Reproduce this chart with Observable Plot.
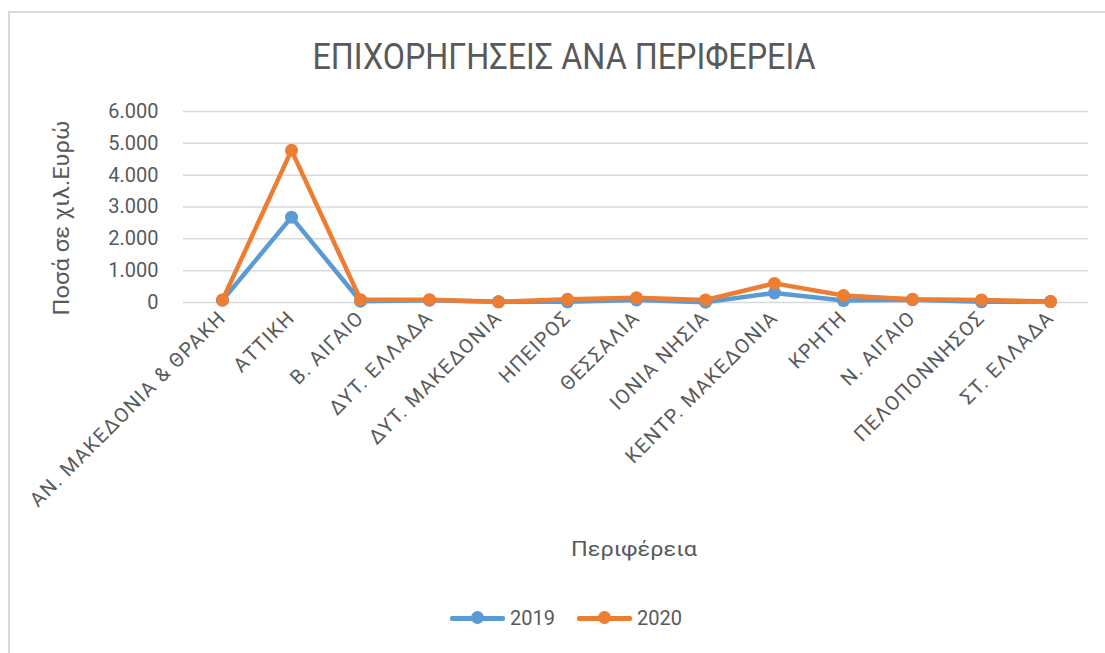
<!DOCTYPE html>
<html>
<head>
<meta charset="utf-8">
<script src="https://cdn.jsdelivr.net/npm/d3@7"></script>
<script src="https://cdn.jsdelivr.net/npm/@observablehq/plot@0.6"></script>
<style>
  html, body { margin: 0; padding: 0; background: #fff; }
  #wrap { position: relative; width: 1105px; height: 653px; overflow: hidden; font-family: Roboto, "Open Sans", sans-serif; color: #595959; }
  #frame { position: absolute; left: 8px; top: 11px; width: 1200px; height: 800px; border-left: 2px solid #d9d9d9; border-top: 2px solid #d9d9d9; }
  .txt { position: absolute; white-space: nowrap; line-height: 1; }
  #legend { position: absolute; top: 608px; left: 450px; display: flex; align-items: center; font-size: 20px; line-height: 1; }
  .li { display: flex; align-items: center; margin-right: 22px; }
  .sw { position: relative; width: 55px; height: 14px; margin-right: 5px; }
  .sw .l { position: absolute; left: 0; right: 0; top: 5px; height: 4.5px; border-radius: 2px; }
  .sw .d { position: absolute; left: 21px; top: 0; width: 13px; height: 13px; border-radius: 50%; }
  svg { position: absolute; left: 0; top: 0; }
</style>
</head>
<body>
<div id="wrap">
  <div id="frame"></div>
</div>
<script>
const regions = ["ΑΝ. ΜΑΚΕΔΟΝΙΑ & ΘΡΑΚΗ", "ΑΤΤΙΚΗ", "Β. ΑΙΓΑΙΟ", "ΔΥΤ. ΕΛΛΑΔΑ", "ΔΥΤ. ΜΑΚΕΔΟΝΙΑ", "ΗΠΕΙΡΟΣ", "ΘΕΣΣΑΛΙΑ", "ΙΟΝΙΑ ΝΗΣΙΑ", "ΚΕΝΤΡ. ΜΑΚΕΔΟΝΙΑ", "ΚΡΗΤΗ", "Ν. ΑΙΓΑΙΟ", "ΠΕΛΟΠΟΝΝΗΣΟΣ", "ΣΤ. ΕΛΛΑΔΑ"];
const values2019 = [70, 2680, 40, 70, 20, 20, 80, 10, 300, 60, 90, 20, 30];
const values2020 = [80, 4780, 90, 90, 20, 100, 150, 80, 600, 220, 100, 80, 30];
const years = ["2019", "2020"];
const colors = ["#5B9BD5", "#ED7D31"];
const yTicks = [0, 1000, 2000, 3000, 4000, 5000, 6000];

const data = [];
regions.forEach((r, i) => {
  data.push({region: r, year: "2019", value: values2019[i]});
  data.push({region: r, year: "2020", value: values2020[i]});
});

const fmt = v => v === 0 ? "0" : d3.format(",")(v).replace(/,/g, ".");

const chart = Plot.plot({
  width: 1105,
  height: 653,
  marginLeft: 183,
  marginRight: 17,
  marginTop: 111,
  marginBottom: 351,
  style: { fontFamily: "Roboto, 'Open Sans', sans-serif", background: "transparent", color: "#595959" },
  x: { type: "point", domain: regions, padding: 0.5, label: null },
  y: { domain: [0, 6000], label: null },
  color: { domain: years, range: colors },
  marks: [
    Plot.gridY(yTicks, { stroke: "#d9d9d9", strokeOpacity: 1, strokeWidth: 1.5 }),
    Plot.axisY(yTicks, { tickSize: 0, tickPadding: 25, tickFormat: fmt, fontSize: 20, fill: "#595959", label: null }),
    Plot.axisX({ tickSize: 0, tickPadding: 12, tickRotate: -45, fontSize: 20, fill: "#595959", label: null }),
    Plot.line(data, { x: "region", y: "value", z: "year", stroke: "year", strokeWidth: 4.5, strokeLinejoin: "round", strokeLinecap: "round" }),
    Plot.dot(data, { x: "region", y: "value", fill: "year", r: 6.5, stroke: "none" })
  ]
});

d3.select(chart).selectAll('g[aria-label="x-axis tick label"] text').style("letter-spacing", "1.3px");

const wrap = document.getElementById("wrap");
wrap.appendChild(chart);

// place a text centred at (cx, cy), stretched to the measured width / cap height of the reference
function addText(text, cx, cy, fontSize, targetW, targetCap, rotate) {
  const d = document.createElement("div");
  d.className = "txt";
  d.textContent = text;
  d.style.fontSize = fontSize + "px";
  d.style.left = cx + "px";
  d.style.top = cy + "px";
  wrap.appendChild(d);
  const w = d.getBoundingClientRect().width;
  const sx = targetW / w;
  const sy = targetCap / (0.711 * fontSize);
  d.style.transformOrigin = "0 0";
  d.style.transform = (rotate ? "rotate(-90deg) " : "") + `scale(${sx}, ${sy}) translate(-50%, -50%)`;
}
addText("ΕΠΙΧΟΡΗΓΗΣΕΙΣ ΑΝΑ ΠΕΡΙΦΕΡΕΙΑ", 563.5, 57, 30, 503, 26, false);
addText("Ποσά σε χιλ.Ευρώ", 62, 218, 22, 195, 16, true);
addText("Περιφέρεια", 634, 549, 21, 126, 15, false);

const legend = document.createElement("div");
legend.id = "legend";
years.forEach((y, i) => {
  const item = document.createElement("div");
  item.className = "li";
  item.innerHTML = `<div class="sw"><div class="l" style="background:${colors[i]}"></div><div class="d" style="background:${colors[i]}"></div></div><span>${y}</span>`;
  legend.appendChild(item);
});
wrap.appendChild(legend);
</script>
</body>
</html>
